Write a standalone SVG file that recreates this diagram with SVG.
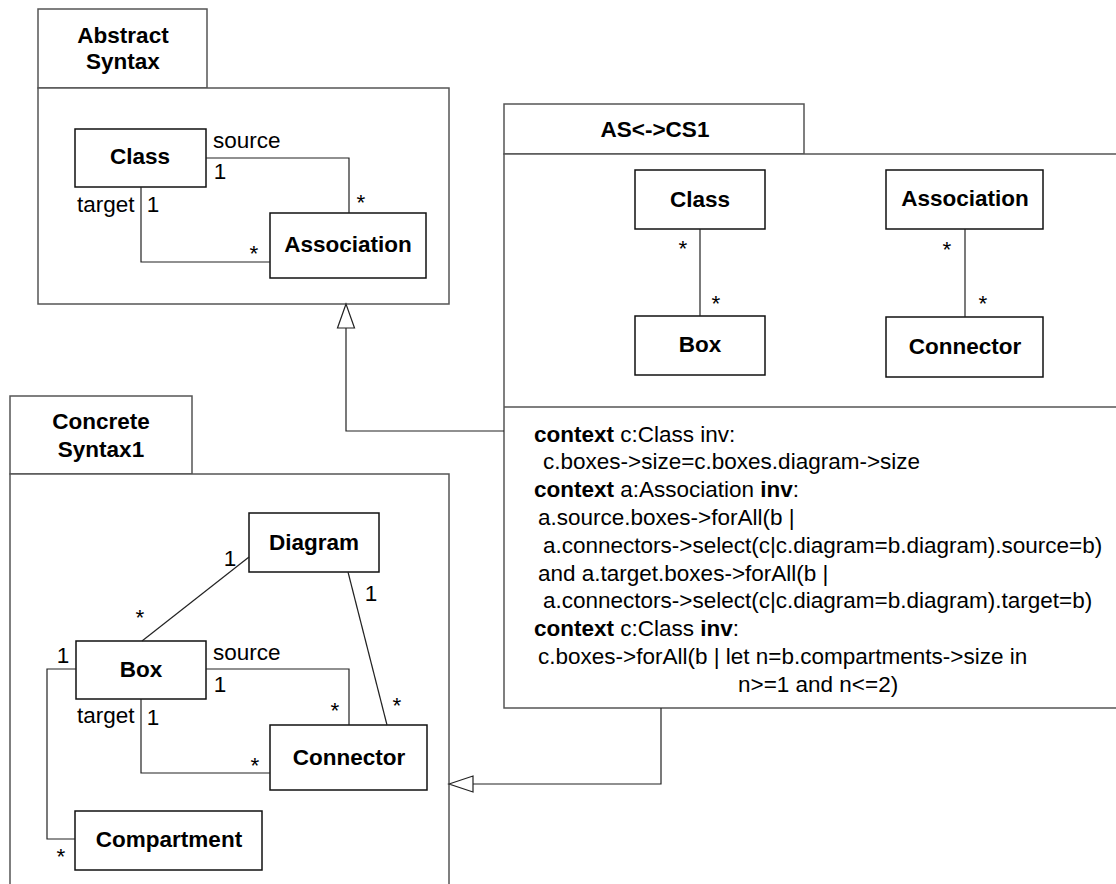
<svg xmlns="http://www.w3.org/2000/svg" width="1116" height="884" viewBox="0 0 1116 884">
<style>
text{font-family:"Liberation Sans",Arial,Helvetica,sans-serif;font-size:22.5px;fill:#000}
.b{font-weight:bold}
.m{text-anchor:middle}
.pkg{fill:#fff;stroke:#555;stroke-width:1.5}
.cls{fill:#fff;stroke:#111;stroke-width:1.5}
.ln{fill:none;stroke:#222;stroke-width:1.2}
.tri{fill:#fff;stroke:#222;stroke-width:1.2}
</style>
<rect width="1116" height="884" fill="#fff"/>

<g id="pkg-abstract">
<rect class="pkg" x="38" y="9" width="169" height="79"/>
<rect class="pkg" x="38" y="88" width="411" height="216"/>
<text class="b m" x="123" y="43">Abstract</text>
<text class="b m" x="123" y="69">Syntax</text>
</g>
<g id="as-class"><rect class="cls" x="75" y="129" width="131" height="58"/><text class="b m" x="140" y="164">Class</text></g>
<g id="as-association"><rect class="cls" x="270" y="213" width="156" height="65"/><text class="b m" x="348" y="252">Association</text></g>

<g id="pkg-mapping">
<rect class="pkg" x="504" y="104" width="300" height="50"/>
<rect class="pkg" x="504" y="154" width="620" height="554"/>
<line class="pkg" x1="504" y1="407" x2="1116" y2="407"/>
<text class="b m" x="655" y="137">AS&lt;-&gt;CS1</text>
</g>
<g id="m-class"><rect class="cls" x="635" y="170" width="130" height="59"/><text class="b m" x="700" y="207">Class</text></g>
<g id="m-box"><rect class="cls" x="635" y="316" width="130" height="59"/><text class="b m" x="700" y="352">Box</text></g>
<g id="m-association"><rect class="cls" x="886" y="170" width="157" height="59"/><text class="b m" x="965" y="206">Association</text></g>
<g id="m-connector"><rect class="cls" x="886" y="317" width="157" height="60"/><text class="b m" x="965" y="354">Connector</text></g>
<g id="constraints">
<text x="534" y="441.5"><tspan class="b">context</tspan> c:Class inv:</text>
<text x="543" y="469.3">c.boxes-&gt;size=c.boxes.diagram-&gt;size</text>
<text x="534" y="497.1"><tspan class="b">context</tspan> a:Association <tspan class="b">inv</tspan>:</text>
<text x="538" y="524.9">a.source.boxes-&gt;forAll(b |</text>
<text x="543" y="552.7">a.connectors-&gt;select(c|c.diagram=b.diagram).source=b)</text>
<text x="538" y="580.5">and a.target.boxes-&gt;forAll(b |</text>
<text x="543" y="608.3">a.connectors-&gt;select(c|c.diagram=b.diagram).target=b)</text>
<text x="534" y="636.1"><tspan class="b">context</tspan> c:Class <tspan class="b">inv</tspan>:</text>
<text x="538" y="663.9">c.boxes-&gt;forAll(b | let n=b.compartments-&gt;size in</text>
<text x="738" y="691.7">n&gt;=1 and n&lt;=2)</text>
</g>

<g id="pkg-concrete">
<rect class="pkg" x="10" y="396" width="182" height="78"/>
<rect class="pkg" x="10" y="474" width="439" height="430"/>
<text class="b m" x="101" y="429">Concrete</text>
<text class="b m" x="101" y="457">Syntax1</text>
</g>
<g id="cs-diagram"><rect class="cls" x="249" y="513" width="130" height="59"/><text class="b m" x="314" y="550">Diagram</text></g>
<g id="cs-box"><rect class="cls" x="76" y="641" width="130" height="58"/><text class="b m" x="141" y="677">Box</text></g>
<g id="cs-connector"><rect class="cls" x="270" y="725" width="157" height="65"/><text class="b m" x="349" y="765">Connector</text></g>
<g id="cs-compartment"><rect class="cls" x="75" y="811" width="187" height="59"/><text class="b m" x="169" y="847">Compartment</text></g>

<g id="connectors">
<!-- abstract syntax -->
<polyline class="ln" points="206,158 349,158 349,213"/>
<polyline class="ln" points="141,187 141,262 270,262"/>
<!-- mapping -->
<line class="ln" x1="700" y1="229" x2="700" y2="316"/>
<line class="ln" x1="965" y1="229" x2="965" y2="317"/>
<!-- concrete syntax -->
<line class="ln" x1="249" y1="557" x2="142" y2="641"/>
<line class="ln" x1="348" y1="572" x2="387" y2="725"/>
<polyline class="ln" points="206,669 349,669 349,725"/>
<polyline class="ln" points="141,699 141,773 270,773"/>
<polyline class="ln" points="76,669 47,669 47,839 75,839"/>
<!-- generalizations -->
<polyline class="ln" points="504,431 346,431 346,328"/>
<polygon class="tri" points="346,304 337.5,328 354.5,328"/>
<polyline class="ln" points="661,708 661,784 473,784"/>
<polygon class="tri" points="449,784 473,776 473,792"/>
</g>

<g id="labels">
<text x="213" y="148">source</text>
<text class="m" x="220" y="179">1</text>
<text class="m" x="361" y="210">*</text>
<text x="77" y="212">target</text>
<text class="m" x="153" y="212">1</text>
<text class="m" x="254" y="261">*</text>

<text class="m" x="683" y="256">*</text>
<text class="m" x="716" y="311">*</text>
<text class="m" x="947" y="257">*</text>
<text class="m" x="983" y="311">*</text>

<text class="m" x="230" y="566">1</text>
<text class="m" x="140" y="625">*</text>
<text class="m" x="371" y="601">1</text>
<text class="m" x="397" y="713">*</text>
<text x="213" y="660">source</text>
<text class="m" x="220" y="692">1</text>
<text class="m" x="335" y="718">*</text>
<text x="77" y="723">target</text>
<text class="m" x="153" y="725">1</text>
<text class="m" x="255" y="773">*</text>
<text class="m" x="63" y="663">1</text>
<text class="m" x="61" y="864">*</text>
</g>
</svg>
